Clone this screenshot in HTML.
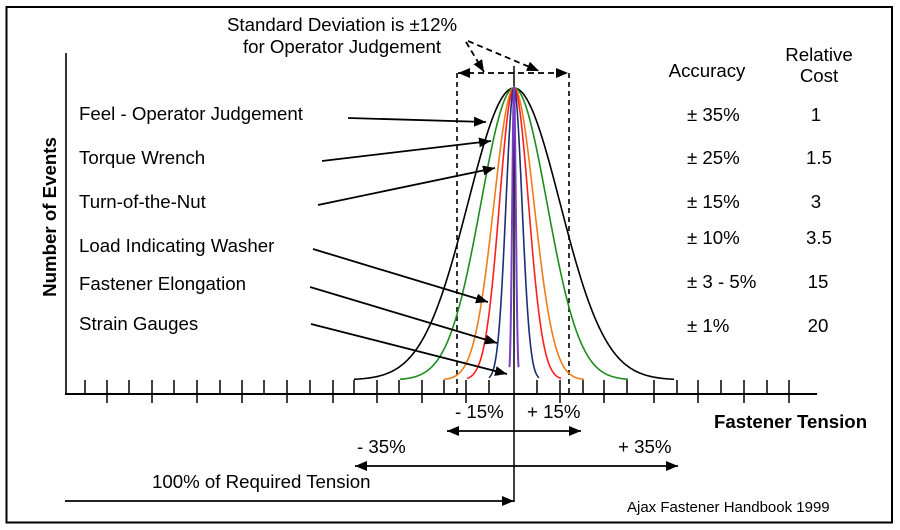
<!DOCTYPE html>
<html>
<head>
<meta charset="utf-8">
<style>
html,body{margin:0;padding:0;background:#fff;}
svg{display:block;}
text{font-family:"Liberation Sans",Arial,sans-serif;font-size:18.67px;fill:#000;}
.b{font-weight:bold;}
</style>
</head>
<body>
<svg id="s" width="900" height="530" viewBox="0 0 900 530" xmlns="http://www.w3.org/2000/svg">
<defs>
<marker id="ah" viewBox="0 0 12 10" refX="12" refY="5" markerWidth="12" markerHeight="10" markerUnits="userSpaceOnUse" orient="auto-start-reverse">
<path d="M0,0 L12,5 L0,10 z" fill="#000"/>
</marker>
</defs>
<rect x="0" y="0" width="900" height="530" fill="#fff"/>
<rect x="6.5" y="7" width="885.5" height="515.5" fill="none" stroke="#000" stroke-width="2"/>

<!-- axes -->
<line x1="66" y1="53" x2="66" y2="394" stroke="#000" stroke-width="1.6"/>
<line x1="65" y1="394" x2="817" y2="394" stroke="#000" stroke-width="2"/>
<g id="ticks" stroke="#000" stroke-width="1.5"></g>

<!-- center line -->
<line x1="514" y1="66" x2="514" y2="502" stroke="#000" stroke-width="1.5"/>

<!-- dashed verticals -->
<line x1="457" y1="73" x2="457" y2="395" stroke="#000" stroke-width="1.6" stroke-dasharray="5,4"/>
<line x1="569" y1="73" x2="569" y2="395" stroke="#000" stroke-width="1.6" stroke-dasharray="5,4"/>
<line x1="458" y1="73" x2="568" y2="73" stroke="#000" stroke-width="1.8" stroke-dasharray="6,4" marker-start="url(#ah)" marker-end="url(#ah)"/>
<line x1="466" y1="42" x2="484" y2="72" stroke="#000" stroke-width="1.8" stroke-dasharray="6,4" marker-end="url(#ah)"/>
<line x1="468" y1="41" x2="539" y2="71" stroke="#000" stroke-width="1.8" stroke-dasharray="6,4" marker-end="url(#ah)"/>

<g id="curves" fill="none" stroke-width="1.6"></g>

<!-- pointer arrows -->
<g stroke="#000" stroke-width="1.8">
<line x1="348" y1="118" x2="486" y2="122" marker-end="url(#ah)"/>
<line x1="322" y1="161" x2="491" y2="141" marker-end="url(#ah)"/>
<line x1="318" y1="205" x2="495" y2="168" marker-end="url(#ah)"/>
<line x1="313" y1="249" x2="488" y2="302" marker-end="url(#ah)"/>
<line x1="310" y1="287" x2="497" y2="343" marker-end="url(#ah)"/>
<line x1="311" y1="324" x2="507" y2="374" marker-end="url(#ah)"/>
<line x1="447" y1="431" x2="581" y2="431" marker-start="url(#ah)" marker-end="url(#ah)"/>
<line x1="355" y1="466" x2="678" y2="466" marker-start="url(#ah)" marker-end="url(#ah)"/>
<line x1="65" y1="501" x2="514" y2="501" marker-end="url(#ah)"/>
</g>

<!-- texts -->
<text x="342" y="31" text-anchor="middle">Standard Deviation is ±12%</text>
<text x="342" y="53" text-anchor="middle">for Operator Judgement</text>

<text x="79" y="120">Feel - Operator Judgement</text>
<text x="79" y="164">Torque Wrench</text>
<text x="79" y="208">Turn-of-the-Nut</text>
<text x="79" y="252">Load Indicating Washer</text>
<text x="79" y="290">Fastener Elongation</text>
<text x="79" y="330">Strain Gauges</text>

<text x="707" y="77" text-anchor="middle">Accuracy</text>
<text x="819" y="61" text-anchor="middle">Relative</text>
<text x="819" y="82" text-anchor="middle">Cost</text>

<text x="687" y="121">± 35%</text>
<text x="687" y="164">± 25%</text>
<text x="687" y="208">± 15%</text>
<text x="687" y="244">± 10%</text>
<text x="687" y="288">± 3 - 5%</text>
<text x="687" y="332">± 1%</text>

<text x="816" y="121" text-anchor="middle">1</text>
<text x="819" y="164" text-anchor="middle">1.5</text>
<text x="816" y="208" text-anchor="middle">3</text>
<text x="819" y="244" text-anchor="middle">3.5</text>
<text x="818" y="288" text-anchor="middle">15</text>
<text x="818" y="332" text-anchor="middle">20</text>

<text class="b" transform="translate(56,217) rotate(-90)" text-anchor="middle">Number of Events</text>
<text class="b" x="714" y="428">Fastener Tension</text>

<text x="455" y="418">- 15%</text>
<text x="527" y="418">+ 15%</text>
<text x="357" y="453">- 35%</text>
<text x="618" y="453">+ 35%</text>
<text x="152" y="488">100% of Required Tension</text>
<text x="627" y="512" style="font-size:15px">Ajax Fastener Handbook 1999</text>
</svg>
<script>
(function(){
var NS="http://www.w3.org/2000/svg";
var tg=document.getElementById("ticks");
var shortT=[85,129,174,220,264,310,354,399,444,489,537,583,627,677,721,767];
var longT=[107,152,197,242,287,333,377,422,466,560,604,654,698,744,789];
function ln(g,x1,y1,x2,y2){var l=document.createElementNS(NS,"line");l.setAttribute("x1",x1);l.setAttribute("y1",y1);l.setAttribute("x2",x2);l.setAttribute("y2",y2);g.appendChild(l);}
shortT.forEach(function(x){ln(tg,x,380,x,394);});
longT.forEach(function(x){ln(tg,x,380,x,403);});
var cg=document.getElementById("curves");
var cx=514,base=380,amp=292;
var C=[["#000000",46,160],["#1f8c1f",33,114],["#f07c1c",20,70],["#ff1f1f",14.5,47],["#1c2f72",8,25],["#7b3fc4",1.8,4.5]];
C.forEach(function(c){
 var s=c[1],hw=c[2],d="";var n=200;
 for(var i=0;i<=n;i++){var dx=-hw+2*hw*i/n;var y=base-amp*Math.exp(-dx*dx/(2*s*s));d+=(i?"L":"M")+(cx+dx).toFixed(2)+","+y.toFixed(2);}
 var p=document.createElementNS(NS,"path");p.setAttribute("d",d);p.setAttribute("stroke",c[0]);
 if(c[0]=="#7b3fc4")p.setAttribute("stroke-width","2");
 cg.appendChild(p);
});
})();
</script>
</body>
</html>
